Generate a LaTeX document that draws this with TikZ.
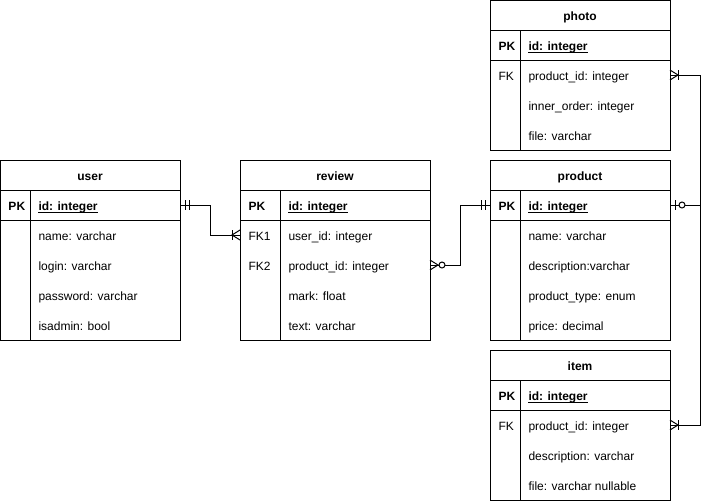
\documentclass[tikz,border=0pt]{standalone}
\usepackage{fontspec}
\setmainfont{Liberation Sans}
\begin{document}
\begin{tikzpicture}[x=1pt,y=-1pt,line width=1pt,
  font=\fontsize{12}{14}\selectfont,
  rowbox/.style={inner sep=0pt,outer sep=0pt,minimum height=30pt,anchor=north west},
  celltext/.style={inner sep=0pt,anchor=base west},
  boldtext/.style={font=\fontsize{12}{14}\selectfont\bfseries},
  frame/.style={draw=black,line width=1pt},
  link/.style={draw=black,line width=1pt},
  % ER cardinality marks; origin at the table edge, line heading toward +x
  mandone/.pic={\draw (5,-5)--(5,5) (9,-5)--(9,5);},
  onemany/.pic={\draw (0,-5)--(8,0)--(0,5); \draw (8,-5)--(8,5);},
  zeromany/.pic={\draw (0,-5)--(8,0)--(0,5); \draw[fill=white] (12,0) circle[radius=3];},
  zeroone/.pic={\draw (5,-5)--(5,5); \draw[fill=white] (12,0) circle[radius=3];}
]
\useasboundingbox (0,0) rectangle (710,501);

% #1 name, #2 left, #3 top, #4 width, #5 key column width, #6 title, #7 key/field rows
\newcommand\erTable[7]{%
  \node[rowbox,minimum width=#4] (#1) at (#2,#3) {};
  \node[boldtext,inner sep=0pt,anchor=base] at ([yshift=-5.2]#1.center) {#6};
  \foreach \k/\f [count=\i] in {#7}{%
    \pgfmathsetmacro\yy{#3+30*\i}%
    \node[rowbox,minimum width=#4] (#1-\i) at (#2,\yy) {};
    \ifnum\i=1
      \node[celltext,boldtext] at ([xshift=8,yshift=-5.2]#1-\i.west) {\k};
      \node[celltext,boldtext] (#1-key) at ([xshift=#5+8,yshift=-5.2]#1-\i.west) {\f};
      \draw[line width=1pt] ([yshift=-2]#1-key.base west) -- ([yshift=-2]#1-key.base east);
    \else
      \node[celltext] at ([xshift=8,yshift=-5.2]#1-\i.west) {\k};
      \node[celltext] at ([xshift=#5+8,yshift=-5.2]#1-\i.west) {\f};
    \fi
    \xdef\lastrow{\i}%
  }%
  \draw[frame] (#1.north west) rectangle (#1-\lastrow.south east);
  \draw[frame] (#1.south west) -- (#1.south east);
  \draw[frame] (#1-1.south west) -- (#1-1.south east);
  \draw[frame] ([xshift=#5]#1-1.north west) -- ([xshift=#5]#1-\lastrow.south west);
}

% user
\erTable{user}{0}{160}{180}{30}{user}{PK/id: integer, /name: varchar, /login: varchar, /password: varchar, /isadmin: bool}
% review
\erTable{review}{240}{160}{190}{40}{review}{PK/id: integer, FK1/user\_id: integer, FK2/product\_id: integer, /mark: float, /text: varchar}
% photo
\erTable{photo}{490}{0}{180}{30}{photo}{PK/id: integer, FK/product\_id: integer, /inner\_order: integer, /file: varchar}
% product
\erTable{product}{490}{160}{180}{30}{product}{PK/id: integer, /name: varchar, /description:varchar, /product\_type: enum, /price: decimal}
% item
\erTable{item}{490}{350}{180}{30}{item}{PK/id: integer, FK/product\_id: integer, /description: varchar, /file: varchar nullable}

% relationships
\draw[link] (user-1.east) -- ++(30,0) |- (review-2.west);
\draw[link] (review-3.east) -- ++(30,0) |- (product-1.west);
\draw[link] (product-1.east) -- ++(30,0) |- (photo-2.east);
\draw[link] (product-1.east) -- ++(30,0) |- (item-2.east);

\pic at (user-1.east) {mandone};
\pic[xscale=-1] at (review-2.west) {onemany};
\pic at (review-3.east) {zeromany};
\pic[xscale=-1] at (product-1.west) {mandone};
\pic at (product-1.east) {zeroone};
\pic at (photo-2.east) {onemany};
\pic at (item-2.east) {onemany};
\end{tikzpicture}
\end{document}
